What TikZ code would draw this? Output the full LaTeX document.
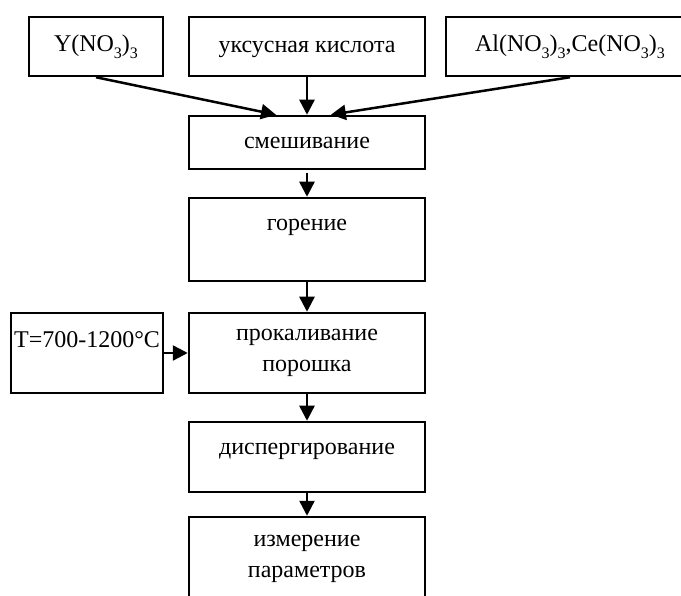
\documentclass[tikz,border=0pt]{standalone}
\usepackage{fontspec}
\setmainfont{Liberation Serif}
\usepackage{tikz}
\usetikzlibrary{positioning,calc,arrows.meta}
\newcommand{\chsub}[1]{\raisebox{-0.3em}{\fontsize{16}{16}\selectfont #1}}
\tikzset{
	flow/.style={-{Triangle[length=15pt,width=15pt]},line width=2.5pt},
	stage/.style={rectangle,draw,line width=2.5pt,minimum width=236pt,align=center,
		inner xsep=2pt,font=\fontsize{24}{31}\selectfont},
	stage top/.style={stage,inner ysep=0pt}
}

\begin{document}
\begin{tikzpicture}[flow]
	\useasboundingbox (0,0) rectangle (681pt,-596pt);
	
	\node[stage, minimum height=59pt] (acid) at (307pt,-46.5pt) {\strut уксусная кислота};
	\node[stage, minimum height=59pt, minimum width=134pt] (ynit) [left=23.5pt of acid] {Y(NO\chsub{3})\chsub{3}};
	\node[stage, minimum height=59pt, minimum width=248pt] (alnit) [right=18.5pt of acid] {Al(NO\chsub{3})\chsub{3},Ce(NO\chsub{3})\chsub{3}};
	\node[stage, minimum height=53pt] (mix) [below=37.5pt of acid] {смешивание};
	\node[stage top, text height=33pt, text depth=50pt] (burn) [below=26.5pt of mix] {горение};
	\node[stage, minimum height=80pt] (calc) [below=29.5pt of burn] {прокаливание\\порошка};
	\node[stage top, minimum width=152pt, inner xsep=0pt, text height=35pt, text depth=45pt] (temp) [left=23.5pt of calc] {T=700-1200°C};
	\node[stage top, text height=32pt, text depth=38pt] (disp) [below=26.5pt of calc] {диспергирование};
	\node[stage, minimum height=84pt] (meas) [below=22.5pt of disp] {измерение\\параметров};
	
	\path (ynit.south) edge ($(mix.north west)!0.37!(mix.north east)$);
	\path (acid.south) edge (mix.north);
	\path (alnit.south) edge ($(mix.north west)!0.6!(mix.north east)$);
	\path (mix.south) edge[shorten <=3pt] (burn.north);
	\path (burn.south) edge (calc.north);
	\path (temp.east) edge (calc.west);
	\path (calc.south) edge (disp.north);
	\path (disp.south) edge (meas.north);
\end{tikzpicture}
\end{document}
